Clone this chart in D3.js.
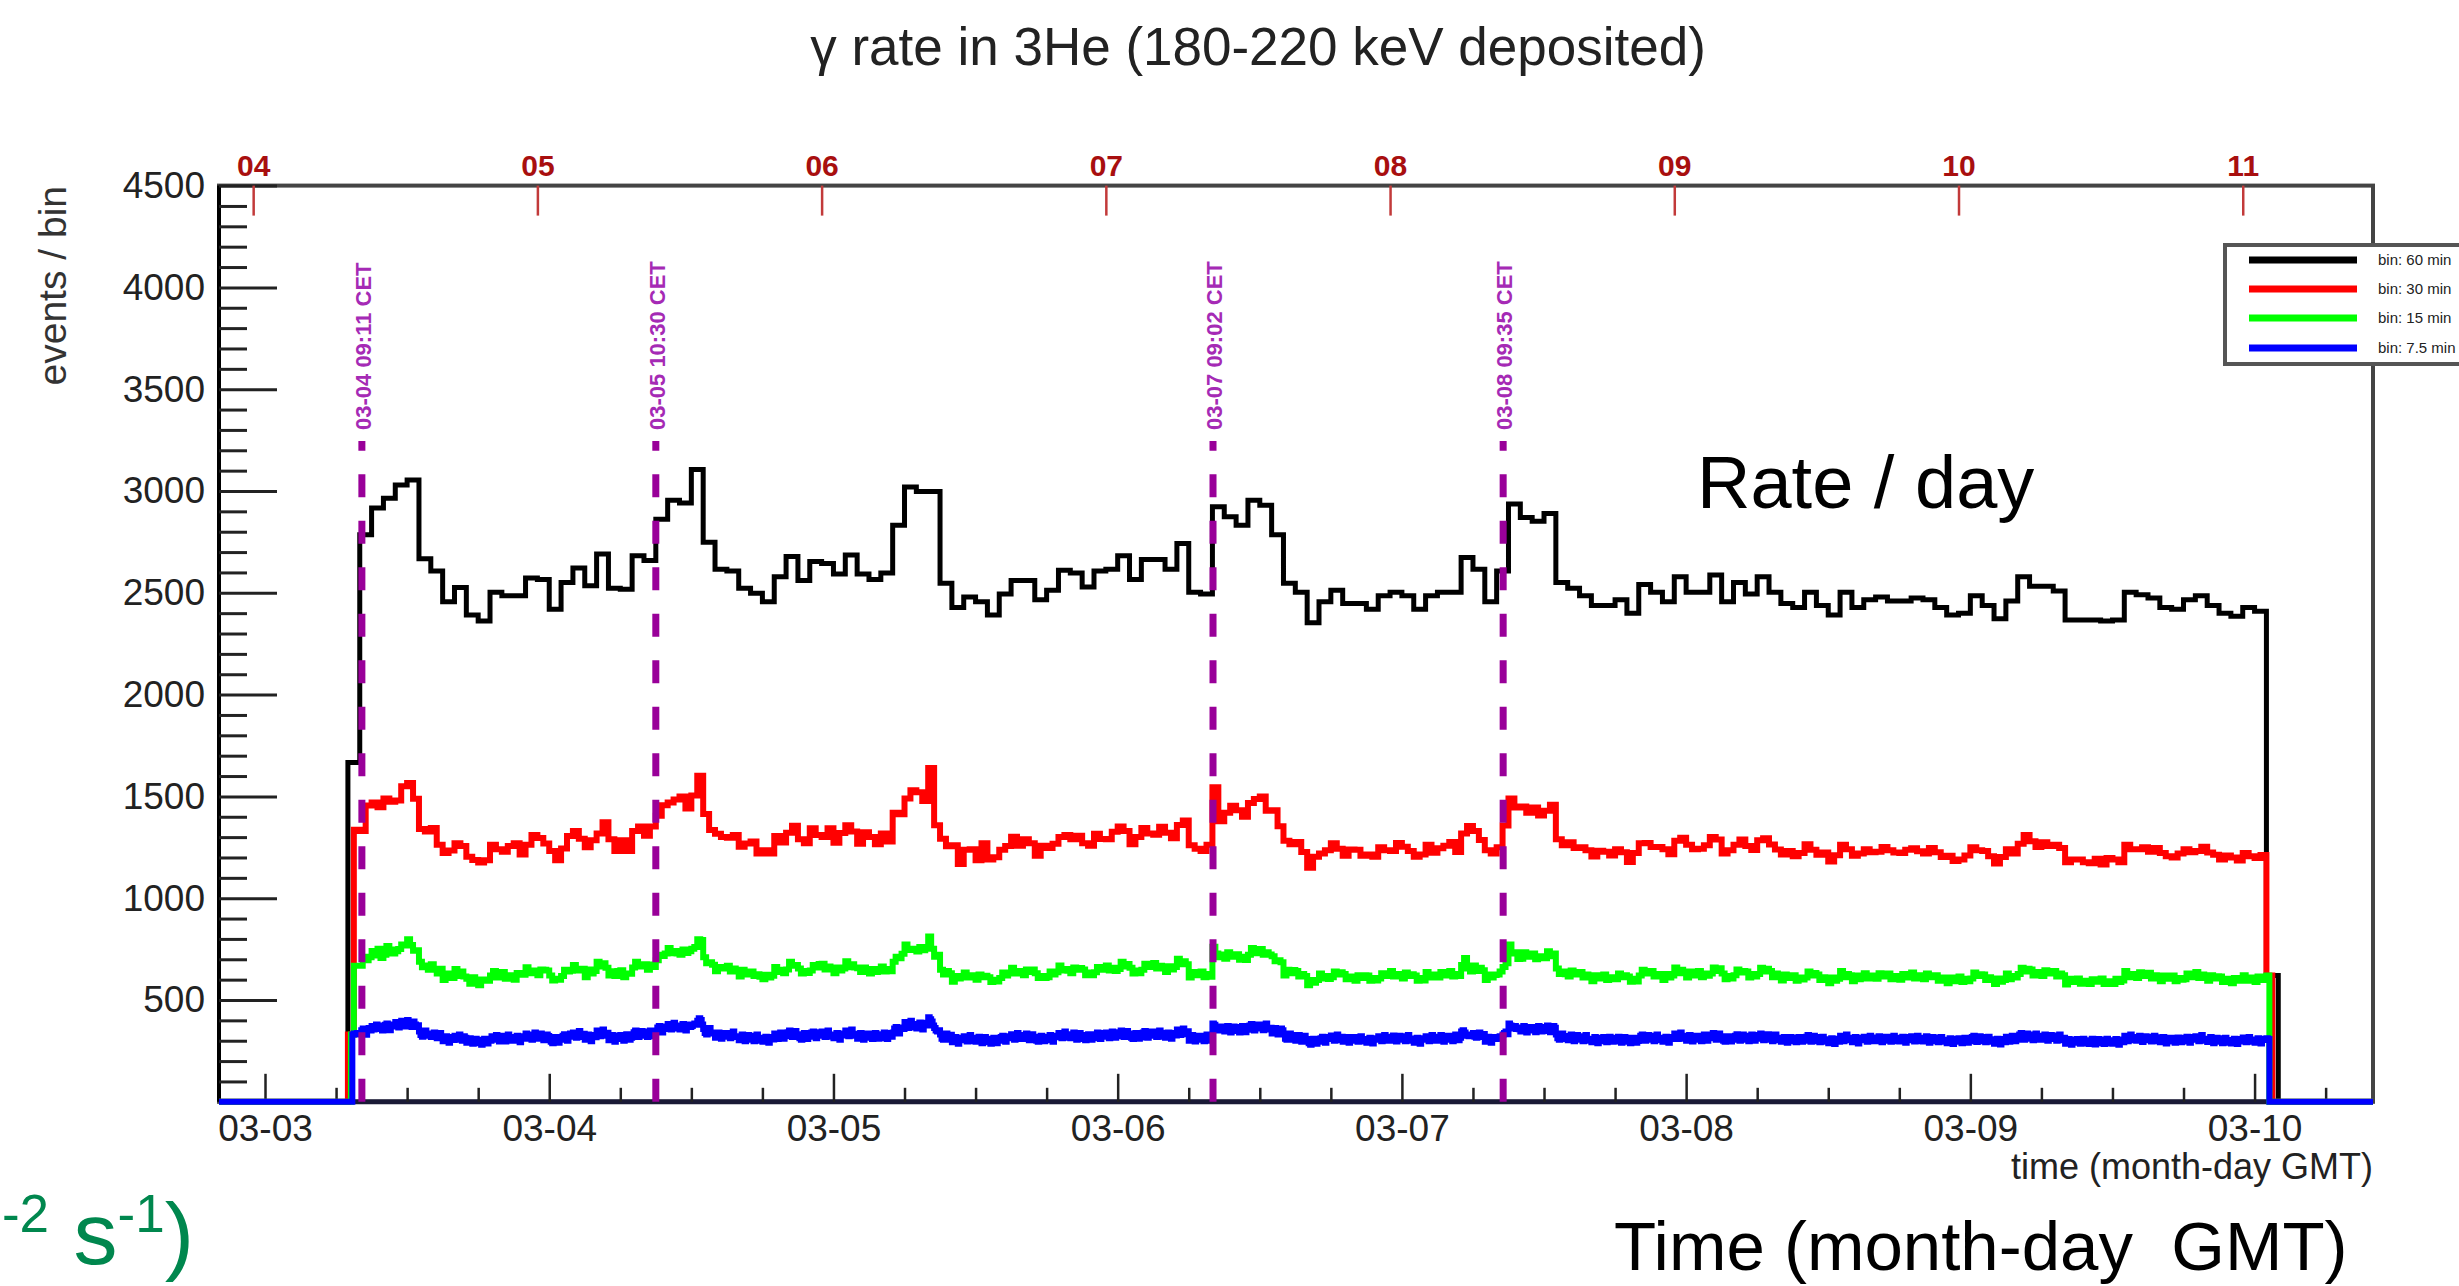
<!DOCTYPE html>
<html>
<head>
<meta charset="utf-8">
<script src="https://cdn.jsdelivr.net/npm/d3@7"></script>
<style>
  html, body { margin: 0; padding: 0; background: #fff; }
  svg { display: block; font-family: "Liberation Sans", Arial, Helvetica, sans-serif; }
  text { white-space: pre; }
</style>
</head>
<body>
<svg id="chart" width="2459" height="1286"></svg>
<script>
// ---------------- data ----------------
// hours are counted from 03-03 00:00 GMT
const dayLabels = ["03-03", "03-04", "03-05", "03-06", "03-07", "03-08", "03-09", "03-10"];
const topLabels = ["04", "05", "06", "07", "08", "09", "10", "11"];
const yMajorTicks = [500, 1000, 1500, 2000, 2500, 3000, 3500, 4000, 4500];
const legendLabels = ["bin: 60 min", "bin: 30 min", "bin: 15 min", "bin: 7.5 min"];
const eventHours = [8.18, 33.0, 80.05, 104.55];
const eventLabels = ["03-04 09:11 CET", "03-05 10:30 CET", "03-07 09:02 CET", "03-08 09:35 CET"];

// 60 min bins, first bin starts at 07:00
const rate60 = [
  1666,2785,2917,2964,3030,3054,2667,2607,2456,2526,2391,2362,
  2503,2485,2485,2573,2565,2419,2550,2622,2535,2691,2522,2517,
  2682,2659,2861,2955,2941,3105,2748,2616,2607,2522,2498,2456,
  2579,2678,2560,2654,2644,2592,2686,2592,2565,2597,2832,3020,
  2998,2998,2547,2428,2479,2456,2391,2494,2560,2560,2466,2513,
  2611,2597,2528,2607,2616,2682,2565,2663,2663,2616,2742,2503,
  2494,2923,2874,2832,2955,2930,2785,2547,2503,2353,2456,2513,
  2447,2447,2419,2485,2503,2485,2419,2485,2503,2503,2673,2616,
  2456,2607,2936,2870,2851,2889,2550,2522,2485,2438,2438,2466,
  2400,2541,2503,2456,2579,2503,2503,2588,2456,2550,2494,2579,
  2503,2447,2428,2503,2438,2391,2503,2428,2466,2479,2460,2460,
  2475,2466,2428,2391,2400,2485,2438,2372,2460,2579,2532,2532,
  2509,2366,2366,2366,2362,2366,2503,2490,2475,2428,2419,2466,
  2485,2438,2400,2385,2428,2409,620
];

// 30 min bins, first bin starts at 07:00
const rate30 = [
  330,1336, 1330,1455, 1470,1447, 1490,1474, 1480,1550, 1566,1488,
  1340,1327, 1345,1262, 1222,1234, 1270,1256, 1203,1188, 1175,1187,
  1262,1241, 1228,1257, 1270,1215, 1262,1311, 1296,1269, 1232,1187,
  1244,1306, 1330,1292, 1250,1285, 1318,1373, 1290,1232, 1285,1232,
  1330,1352, 1307,1352, 1405,1456, 1470,1485, 1500,1441, 1504,1601,
  1413,1335, 1316,1300, 1297,1310, 1253,1269, 1278,1220, 1236,1220,
  1305,1274, 1322,1356, 1290,1270, 1343,1311, 1300,1344, 1272,1320,
  1358,1328, 1268,1324, 1300,1265, 1318,1279, 1420,1412, 1490,1530,
  1520,1478, 1640,1358, 1292,1255, 1260,1168, 1238,1241, 1186,1270,
  1190,1201, 1238,1256, 1302,1258, 1290,1270, 1208,1258, 1246,1267,
  1300,1311, 1290,1307, 1270,1258, 1316,1291, 1290,1326, 1352,1330,
  1265,1300, 1345,1318, 1312,1351, 1322,1294, 1360,1382, 1260,1243,
  1232,1262, 1545,1378, 1420,1454, 1432,1400, 1468,1487, 1500,1430,
  1432,1353, 1282,1265, 1276,1227, 1150,1203, 1220,1236, 1270,1243,
  1208,1239, 1238,1209, 1215,1204, 1250,1235, 1232,1271, 1253,1232,
  1204,1215, 1262,1223, 1245,1258, 1276,1227, 1318,1355, 1330,1286,
  1236,1220, 1250,1357, 1490,1446, 1450,1420, 1445,1406, 1430,1459,
  1290,1260, 1275,1247, 1250,1235, 1205,1233, 1228,1210, 1240,1226,
  1178,1222, 1270,1271, 1252,1251, 1240,1216, 1282,1297, 1262,1241,
  1243,1260, 1300,1288, 1220,1236, 1262,1288, 1257,1237, 1285,1294,
  1264,1239, 1215,1232, 1206,1222, 1265,1238, 1214,1224, 1180,1211,
  1262,1241, 1208,1220, 1240,1226, 1228,1251, 1236,1224, 1222,1238,
  1245,1230, 1220,1246, 1226,1202, 1208,1183, 1190,1210, 1250,1235,
  1232,1206, 1170,1202, 1240,1220, 1268,1311, 1280,1252, 1275,1257,
  1262,1247, 1176,1190, 1190,1176, 1172,1194, 1165,1197, 1190,1176,
  1262,1241, 1240,1250, 1228,1247, 1222,1206, 1200,1219, 1240,1226,
  1232,1253, 1224,1214, 1190,1210, 1200,1185, 1222,1206, 1197,1212,
  620
];

// 15 min bins, first bin starts at 07:15
const rate15 = [
  330, 668,668,
  668,712,695,710, 741,718,752,706, 722,765,748,729, 739,751,772,768,
  798,770,742,744, 688,661,670,648, 676,648,630,653, 598,620,630,608,
  652,618,640,616, 604,580,612,595, 572,601,594,595, 620,642,611,630,
  637,604,622,622, 600,633,628,624, 661,632,645,635, 622,650,648,645,
  620,596,604,599, 618,648,640,644, 672,645,652,653, 612,650,630,643,
  688,664,680,659, 620,641,618,643, 646,612,630,629, 660,688,665,669,
  675,648,674,662, 695,722,716,728, 755,730,741,729, 722,748,731,740,
  752,760,798,795, 710,680,685,673, 641,662,655,658, 668,640,655,644,
  615,648,625,634, 640,618,626,614, 602,624,611,619, 662,638,648,631,
  650,688,668,672, 655,630,642,633, 645,672,660,677, 678,650,664,652,
  632,660,645,655, 690,661,675,660, 656,638,660,638, 630,652,638,645,
  664,640,652,641, 688,712,705,727, 772,745,752,751, 738,760,744,756,
  812,752,712,722, 648,625,642,632, 590,618,605,615, 635,610,622,612,
  600,625,612,619, 612,588,600,591, 608,635,620,631, 658,630,642,630,
  622,650,638,650, 632,608,618,608, 612,640,625,636, 670,645,652,644,
  632,660,648,657, 650,622,635,621, 636,662,648,661, 670,645,658,643,
  652,688,665,677, 658,630,645,632, 648,678,662,675, 682,655,668,658,
  638,666,650,662, 702,675,690,675, 610,638,622,633, 640,612,628,614,
  762,728,710,723, 702,735,712,725, 725,698,712,697, 722,755,730,748,
  750,722,735,723, 715,690,695,685, 620,648,632,647, 642,615,628,618,
  572,598,585,598, 630,605,618,603, 612,640,625,636, 628,602,615,602,
  595,622,608,622, 620,595,608,596, 605,632,618,630, 642,615,628,618,
  605,635,618,627, 620,595,608,596, 638,610,625,612, 610,638,620,635,
  642,615,628,618, 672,706,655,640, 670,642,658,646, 598,625,610,623,
  625,640,662,680, 772,728,735,701, 702,735,712,721, 728,700,715,708,
  705,740,715,729, 655,628,640,627, 615,645,625,637, 638,610,625,612,
  592,622,605,619, 625,598,612,603, 602,630,612,622, 615,590,604,591,
  620,648,630,643, 642,615,628,618, 598,628,610,620, 660,632,648,639,
  610,640,620,633, 642,612,630,619, 630,660,642,656, 630,602,618,606,
  622,650,635,643, 640,610,628,616, 628,658,640,653, 642,612,630,619,
  596,625,608,619, 622,595,610,601, 610,640,620,633, 625,598,612,603,
  582,610,595,604, 642,612,628,621, 592,620,602,614, 632,605,620,609,
  604,632,615,628, 630,602,618,610, 600,628,610,622, 635,606,622,612,
  602,630,612,622, 622,595,610,601, 582,610,592,607, 616,588,604,592,
  606,635,618,626, 625,598,612,603, 578,606,590,598, 630,602,618,610,
  628,658,640,653, 650,620,638,624, 618,646,630,638, 642,615,630,622,
  576,604,588,598, 606,580,595,585, 578,602,590,596, 605,578,592,587,
  578,604,588,596, 642,612,628,621, 608,636,618,628, 634,606,622,613,
  592,620,604,614, 620,592,608,599, 602,630,612,622, 638,608,625,614,
  594,622,605,617, 616,588,604,592, 582,608,594,601, 622,595,610,601,
  588,615,598,608,
  620
];

// 7.5 min bins, first bin starts at 07:22:30
const rate7_5 = [
  330, 335,333,338,330,
  335,352,360,341,329,355,362,350, 372,355,368,380,358,362,375,350,
  360,378,385,366,352,374,380,373, 392,370,365,385,398,372,380,370,
  402,375,388,368,395,380,372,376, 345,328,320,338,350,325,332,329,
  318,335,340,322,312,330,338,313, 298,315,322,300,290,310,318,303,
  325,305,312,330,318,300,322,314, 290,308,312,295,285,302,310,290,
  305,288,280,298,310,292,286,301, 300,322,318,305,328,310,296,325,
  322,305,296,315,330,308,300,312, 300,318,325,305,292,315,322,310,
  335,312,318,330,305,325,340,311, 310,328,335,315,302,322,330,323,
  315,295,288,308,318,296,290,309, 305,325,332,312,300,322,335,319,
  340,320,315,335,348,322,318,334, 305,325,330,310,298,322,328,317,
  350,328,322,342,355,330,325,339, 302,322,328,308,295,318,326,323,
  328,308,300,320,332,310,305,314, 322,342,350,330,318,338,348,332,
  345,325,318,338,350,328,322,333, 345,365,372,352,340,360,370,357,
  382,362,355,375,388,365,360,366, 355,375,382,362,350,372,380,368,
  372,380,385,378,398,410,402,380, 358,338,330,350,362,340,335,339,
  315,335,340,322,310,330,338,326, 338,320,312,332,345,322,318,321,
  302,322,330,310,298,318,328,312, 325,305,298,318,330,308,300,314,
  295,315,320,302,290,310,318,306, 335,315,308,328,340,318,310,325,
  322,342,350,330,318,338,348,330, 332,312,305,325,338,315,308,325,
  320,340,345,325,312,335,342,334, 345,325,318,338,350,328,320,324,
  312,330,338,318,305,328,335,326, 350,328,322,342,355,330,325,334,
  310,330,338,318,305,328,335,328, 335,315,308,325,338,318,310,316,
  312,332,340,320,308,328,338,319, 340,360,368,348,335,358,365,358,
  392,370,362,385,398,372,365,376, 360,382,390,370,355,378,388,375,
  415,405,395,375,362,350,345,351, 330,310,305,322,335,312,305,329,
  292,310,318,298,285,305,315,305, 322,302,296,315,328,305,298,314,
  295,315,320,300,288,310,318,310, 310,292,285,302,315,295,288,305,
  300,318,325,305,295,315,322,314, 332,312,305,325,338,315,308,325,
  308,328,335,315,302,322,332,318, 320,300,295,312,325,302,298,314,
  302,320,328,308,295,318,325,317, 338,320,312,332,345,322,315,327,
  312,332,340,320,305,328,338,322, 328,308,302,320,332,310,305,323,
  312,332,340,320,308,330,338,327, 340,320,312,332,345,322,315,330,
  322,342,350,330,318,338,348,334, 335,315,308,325,338,318,310,316,
  320,340,348,328,315,335,345,332, 345,325,318,338,350,328,320,339,
  315,335,340,322,310,330,338,326, 355,335,328,348,360,338,332,346,
  300,320,328,308,296,315,325,311, 325,305,298,318,330,308,300,310,
  385,378,368,355,350,362,370,355, 345,365,372,352,340,362,370,368,
  368,348,340,358,372,350,342,354, 355,375,382,362,350,372,380,379,
  380,360,352,372,385,362,355,364, 335,355,362,342,330,350,360,351,
  330,310,305,322,335,312,305,328, 300,320,328,308,295,318,325,309,
  305,288,280,298,310,290,285,297, 295,312,320,302,290,310,318,309,
  326,308,300,318,330,310,302,319, 295,312,318,300,290,310,318,304,
  318,300,295,310,322,302,296,304, 290,308,315,298,286,305,312,305,
  322,305,298,315,328,308,300,309, 300,320,326,308,296,315,325,313,
  322,305,298,315,328,306,300,311, 290,308,315,298,285,305,312,306,
  322,305,298,315,328,308,300,309, 300,320,328,308,295,318,325,309,
  325,305,298,318,330,310,302,315, 345,352,340,330,325,322,330,329,
  338,320,315,330,340,322,318,333, 295,312,320,302,290,310,318,309,
  312,318,322,310,330,338,345,332, 385,375,365,360,372,358,365,356,
  345,365,372,352,340,360,368,368, 368,350,342,360,372,352,345,362,
  348,368,375,355,342,365,372,364, 330,312,305,322,335,315,308,323,
  302,322,330,310,298,318,328,314, 322,305,298,315,328,308,300,309,
  292,310,318,300,288,308,315,307, 318,298,292,308,320,300,295,307,
  296,315,320,302,290,310,318,315, 312,295,288,305,315,296,290,299,
  305,325,330,312,300,320,328,321, 325,305,298,318,330,310,302,315,
  295,312,320,302,290,310,318,309, 335,315,308,328,340,318,310,325,
  300,320,328,308,296,315,325,311, 325,305,298,318,330,308,300,319,
  312,330,338,318,305,328,335,322, 320,300,295,310,322,302,296,311,
  305,325,332,312,300,322,330,324, 325,305,298,318,330,308,300,310,
  310,328,335,315,302,325,332,332, 325,305,298,318,330,310,302,315,
  295,312,318,300,290,310,318,304, 316,298,292,308,318,300,295,301,
  300,320,328,308,295,318,325,309, 318,298,292,308,320,300,295,307,
  288,305,312,295,284,302,310,295, 325,305,298,318,330,310,302,315,
  292,310,318,298,286,305,315,304, 320,302,295,312,325,302,298,312,
  298,316,322,305,292,312,320,314, 320,300,295,312,325,305,298,305,
  296,315,320,302,290,310,318,309, 322,302,296,312,325,305,298,315,
  296,315,322,302,290,310,318,313, 316,298,292,308,318,300,295,301,
  288,305,312,295,284,302,310,295, 312,295,288,305,315,296,290,299,
  298,318,325,305,294,315,322,308, 318,298,292,308,320,300,295,307,
  285,302,310,292,282,300,308,293, 320,300,295,312,325,305,298,305,
  310,330,338,318,305,328,335,315, 330,310,302,322,335,312,305,316,
  305,325,330,312,300,320,328,312, 326,308,300,318,330,310,302,315,
  285,302,308,292,280,298,306,295, 308,290,285,300,310,292,286,295,
  284,302,310,292,282,300,308,288, 306,290,284,298,310,292,286,296,
  285,302,308,292,280,300,306,293, 325,305,298,318,330,310,302,315,
  300,318,325,305,294,315,322,311, 320,302,296,312,325,305,298,317,
  292,310,318,298,286,305,315,304, 315,296,290,305,316,298,292,307,
  296,315,320,302,290,310,318,315, 322,305,298,315,328,308,300,309,
  294,310,318,300,288,308,315,305, 312,295,288,305,315,296,290,299,
  286,304,310,294,284,302,308,296, 316,298,292,308,318,300,295,301,
  290,306,312,296,286,304,310,304,
  312,308
];

// ---------------- layout ----------------
const svg = d3.select("#chart");
const frame = { left: 219, right: 2373, top: 185.6, bottom: 1101.8 };
const t0 = Date.UTC(2013, 2, 3);            // 03-03 00:00 GMT
const HOUR = 3600000;
const at = h => new Date(t0 + h * HOUR);
const hStart = -3.885, hEnd = 178.0;

const x = d3.scaleUtc().domain([at(hStart), at(hEnd)]).range([frame.left, frame.right]);
const y = d3.scaleLinear().domain([0, 4500]).range([frame.bottom, frame.top]);
const FONT = "Liberation Sans, Arial, Helvetica, sans-serif";

// title
svg.append("text")
  .attr("x", 1258).attr("y", 65)
  .attr("text-anchor", "middle")
  .attr("font-size", 53).attr("fill", "#222")
  .text("\u03b3 rate in 3He (180-220 keV deposited)");

// frame
svg.append("rect")
  .attr("x", frame.left).attr("y", frame.top)
  .attr("width", frame.right - frame.left).attr("height", frame.bottom - frame.top)
  .attr("fill", "none").attr("stroke", "#444").attr("stroke-width", 4);
svg.append("line")
  .attr("x1", frame.left).attr("x2", frame.left)
  .attr("y1", frame.top).attr("y2", frame.bottom)
  .attr("stroke", "#000").attr("stroke-width", 4);
svg.append("line")
  .attr("x1", frame.left).attr("x2", frame.right)
  .attr("y1", frame.bottom).attr("y2", frame.bottom)
  .attr("stroke", "#1a1a36").attr("stroke-width", 5);

function styleAxis(g, size) {
  g.attr("font-family", FONT).attr("font-size", size).attr("color", "#222");
  g.select(".domain").remove();
}

// left axis
const yMinorTicks = d3.range(100, 4500, 100).filter(v => v % 500 !== 0);
svg.append("g").attr("transform", `translate(${frame.left},0)`)
  .call(d3.axisLeft(y).tickValues(yMinorTicks).tickSize(-28).tickFormat(""))
  .call(g => { styleAxis(g, 37); g.selectAll("line").attr("stroke-width", 3); });
svg.append("g").attr("transform", `translate(${frame.left},0)`)
  .call(d3.axisLeft(y).tickValues(yMajorTicks).tickSize(-58).tickPadding(14).tickFormat(d => String(d)))
  .call(g => {
    styleAxis(g, 37);
    g.selectAll("line").attr("stroke-width", 3);
    g.selectAll("text").attr("fill", "#222");
  });

// bottom axis (GMT days, 6 h minor ticks)
const dayTicks = dayLabels.map((_, i) => at(24 * i));
const sixHourTicks = d3.range(0, 178, 6).filter(h => h % 24 !== 0).map(at);
svg.append("g").attr("transform", `translate(0,${frame.bottom})`)
  .call(d3.axisBottom(x).tickValues(sixHourTicks).tickSize(-14).tickFormat(""))
  .call(g => { styleAxis(g, 37); g.selectAll("line").attr("stroke-width", 2.5); });
svg.append("g").attr("transform", `translate(0,${frame.bottom})`)
  .call(d3.axisBottom(x).tickValues(dayTicks).tickSize(-28).tickPadding(13)
    .tickFormat((d, i) => dayLabels[i]))
  .call(g => {
    styleAxis(g, 37);
    g.selectAll("line").attr("stroke-width", 2.5);
    g.selectAll("text").attr("fill", "#222");
  });

// top axis (day of month)
const topTicks = topLabels.map((_, i) => at(-1 + 24 * i));
svg.append("g").attr("transform", `translate(0,${frame.top})`)
  .call(d3.axisTop(x).tickValues(topTicks).tickSize(-30).tickPadding(10)
    .tickFormat((d, i) => topLabels[i]))
  .call(g => {
    styleAxis(g, 30);
    g.attr("color", "#c23a3a");
    g.selectAll("line").attr("stroke-width", 2.5);
    g.selectAll("text").attr("fill", "#a80f0f").attr("font-weight", "bold");
  });

// axis titles
svg.append("text")
  .attr("transform", "translate(66,186) rotate(-90)")
  .attr("text-anchor", "end").attr("font-size", 39).attr("fill", "#333")
  .text("events / bin");
svg.append("text")
  .attr("x", frame.right).attr("y", 1179)
  .attr("text-anchor", "end").attr("font-size", 36).attr("fill", "#222")
  .text("time (month-day GMT)");

// histograms
const series = [
  { values: rate60,  start: 7,     width: 1,     color: "#000000", lw: 5 },
  { values: rate30,  start: 7,     width: 0.5,   color: "#ff0000", lw: 6 },
  { values: rate15,  start: 7.25,  width: 0.25,  color: "#00ff00", lw: 6 },
  { values: rate7_5, start: 7.375, width: 0.125, color: "#0000ff", lw: 6 }
];
const step = d3.line()
  .x(d => x(at(d[0])))
  .y(d => y(d[1]))
  .curve(d3.curveStepAfter);
series.forEach(s => {
  const pts = [[hStart, 0]];
  s.values.forEach((v, i) => pts.push([s.start + i * s.width, v]));
  pts.push([s.start + s.values.length * s.width, 0], [hEnd, 0]);
  svg.append("path")
    .attr("d", step(pts))
    .attr("fill", "none")
    .attr("stroke", s.color)
    .attr("stroke-width", s.lw)
    .attr("stroke-linejoin", "miter");
});

// event markers
eventHours.forEach((h, i) => {
  const ex = x(at(h));
  svg.append("line")
    .attr("x1", ex).attr("x2", ex)
    .attr("y1", y(0)).attr("y2", y(3245))
    .attr("stroke", "#990099").attr("stroke-width", 7)
    .attr("stroke-dasharray", "23 23.5");
  svg.append("text")
    .attr("transform", `translate(${ex + 9},430) rotate(-90)`)
    .attr("font-size", 22).attr("font-weight", "bold").attr("fill", "#a52ab5")
    .text(eventLabels[i]);
});

// legend
const legend = svg.append("g");
legend.append("rect")
  .attr("x", 2225).attr("y", 245).attr("width", 420).attr("height", 119)
  .attr("fill", "#fff").attr("stroke", "#555").attr("stroke-width", 4);
const legendY = [260, 289, 318, 348];
series.forEach((s, i) => {
  legend.append("line")
    .attr("x1", 2249).attr("x2", 2357)
    .attr("y1", legendY[i]).attr("y2", legendY[i])
    .attr("stroke", s.color).attr("stroke-width", 7);
  legend.append("text")
    .attr("x", 2378).attr("y", legendY[i] + 5)
    .attr("font-size", 15).attr("fill", "#222")
    .text(legendLabels[i]);
});

// annotations
svg.append("text")
  .attr("x", 1697).attr("y", 508)
  .attr("font-size", 74).attr("fill", "#000")
  .text("Rate / day");
svg.append("text")
  .attr("x", 1614).attr("y", 1270)
  .attr("font-size", 69).attr("fill", "#000")
  .text("Time (month-day  GMT)");

// flux unit, lower left
const unit = svg.append("text")
  .attr("x", 194).attr("y", 1264)
  .attr("text-anchor", "end")
  .attr("font-size", 88).attr("fill", "#00874e");
unit.append("tspan").attr("font-size", 53).attr("dy", -32).text("-2");
unit.append("tspan").attr("dy", 32).text(" s");
unit.append("tspan").attr("font-size", 53).attr("dy", -32).text("-1");
unit.append("tspan").attr("dy", 32).text(")");
</script>
</body>
</html>
